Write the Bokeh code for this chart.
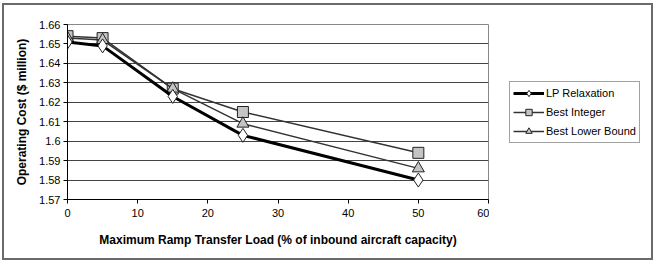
from bokeh.plotting import figure
from bokeh.layouts import row
from bokeh.models import FixedTicker, Legend, LegendItem
from bokeh.embed import file_html
from bokeh.resources import INLINE

# Maximum ramp transfer load (% of inbound aircraft capacity)
ramp_load = [0, 5, 15, 25, 50]

# Operating cost ($ million) for each approach
lp_relaxation = [1.651, 1.649, 1.623, 1.603, 1.580]
best_integer = [1.654, 1.653, 1.627, 1.615, 1.594]
best_lower_bound = [1.653, 1.652, 1.627, 1.609, 1.586]

x_ticks = [0, 10, 20, 30, 40, 50, 60]
y_ticks = [1.57, 1.58, 1.59, 1.60, 1.61, 1.62, 1.63, 1.64, 1.65, 1.66]
y_tick_labels = ["1.57", "1.58", "1.59", "1.6", "1.61", "1.62", "1.63", "1.64", "1.65", "1.66"]

series_labels = ["LP Relaxation", "Best Integer", "Best Lower Bound"]

FONT = "Liberation Sans"

# series styles: (values, line colour, line width, marker, marker size, marker fill)
styles = {
    "Best Integer": (best_integer, "#333333", 1.5, "square", 11, "#c4c4c4"),
    "Best Lower Bound": (best_lower_bound, "#333333", 1.5, "triangle", 12, "#c4c4c4"),
    "LP Relaxation": (lp_relaxation, "black", 3, "diamond", 14, "white"),
}
draw_order = ["Best Integer", "Best Lower Bound", "LP Relaxation"]

BORDER_TOP = 19
BORDER_BOTTOM = 59
HEIGHT = 253


def add_series(fig, name, visible=True):
    vals, lc, lw, mk, ms, fc = styles[name]
    ln = fig.line(ramp_load, vals, line_color=lc, line_width=lw, visible=visible)
    sc = fig.scatter(ramp_load, vals, marker=mk, size=ms, fill_color=fc,
                     line_color="#222222", line_width=1, visible=visible)
    return ln, sc


# ---- main chart ----
p = figure(
    width=485, height=HEIGHT,
    x_range=(0, 60), y_range=(1.57, 1.66),
    output_backend="svg", toolbar_location=None,
    min_border_left=63, min_border_right=1,
    min_border_top=BORDER_TOP, min_border_bottom=BORDER_BOTTOM,
)
p.background_fill_color = "white"
p.border_fill_color = "white"
p.outline_line_color = "#888888"
p.outline_line_width = 1

p.xgrid.grid_line_color = None
p.ygrid.grid_line_color = "#444444"
p.ygrid.grid_line_width = 1

p.xaxis.ticker = FixedTicker(ticks=x_ticks)
p.yaxis.ticker = FixedTicker(ticks=y_ticks)
p.yaxis.major_label_overrides = {t: s for t, s in zip(y_ticks, y_tick_labels)}
for ax in (p.xaxis[0], p.yaxis[0]):
    ax.axis_line_color = "black"
    ax.axis_line_width = 1
    ax.major_tick_line_color = "black"
    ax.major_tick_in = 0
    ax.major_tick_out = 4
    ax.minor_tick_line_color = None
    ax.major_label_text_font = FONT
    ax.major_label_text_font_size = "11px"
    ax.major_label_text_color = "black"
    ax.axis_label_text_font = FONT
    ax.axis_label_text_font_size = "12px"
    ax.axis_label_text_font_style = "bold"
    ax.axis_label_text_color = "black"

p.xaxis.axis_label = "Maximum Ramp Transfer Load (% of inbound aircraft capacity)"
p.xaxis.major_label_standoff = 5
p.xaxis.axis_label_standoff = 13
p.yaxis.axis_label = "Operating Cost ($ million)"
p.yaxis.major_label_standoff = 3
p.yaxis.axis_label_standoff = 7

for name in draw_order:
    add_series(p, name)

# ---- legend panel ----
lf = figure(
    width=162, height=HEIGHT,
    x_range=(0, 60), y_range=(1.57, 1.66),
    x_axis_type=None, y_axis_type=None,
    output_backend="svg", toolbar_location=None,
    min_border_left=20, min_border_right=0,
    min_border_top=BORDER_TOP, min_border_bottom=BORDER_BOTTOM,
)
lf.outline_line_color = None
lf.background_fill_color = "white"
lf.border_fill_color = "white"

legend_renderers = {name: add_series(lf, name, visible=False) for name in draw_order}

legend = Legend(
    items=[LegendItem(label=name, renderers=list(legend_renderers[name]))
           for name in series_labels],
    location=(0, 56),
    orientation="vertical",
    glyph_width=31, glyph_height=16,
    label_height=16, label_standoff=2,
    spacing=3, padding=3, margin=0,
    label_text_font=FONT, label_text_font_size="11px", label_text_color="black",
    border_line_color="#444444", border_line_width=1,
    background_fill_color="white", background_fill_alpha=1,
)
lf.add_layout(legend, "center")

layout = row(p, lf, spacing=0,
             styles={"border": "2px solid #6a6a6a", "margin": "3px 0 0 2px"})

open("out.html", "w").write(file_html(layout, INLINE))
